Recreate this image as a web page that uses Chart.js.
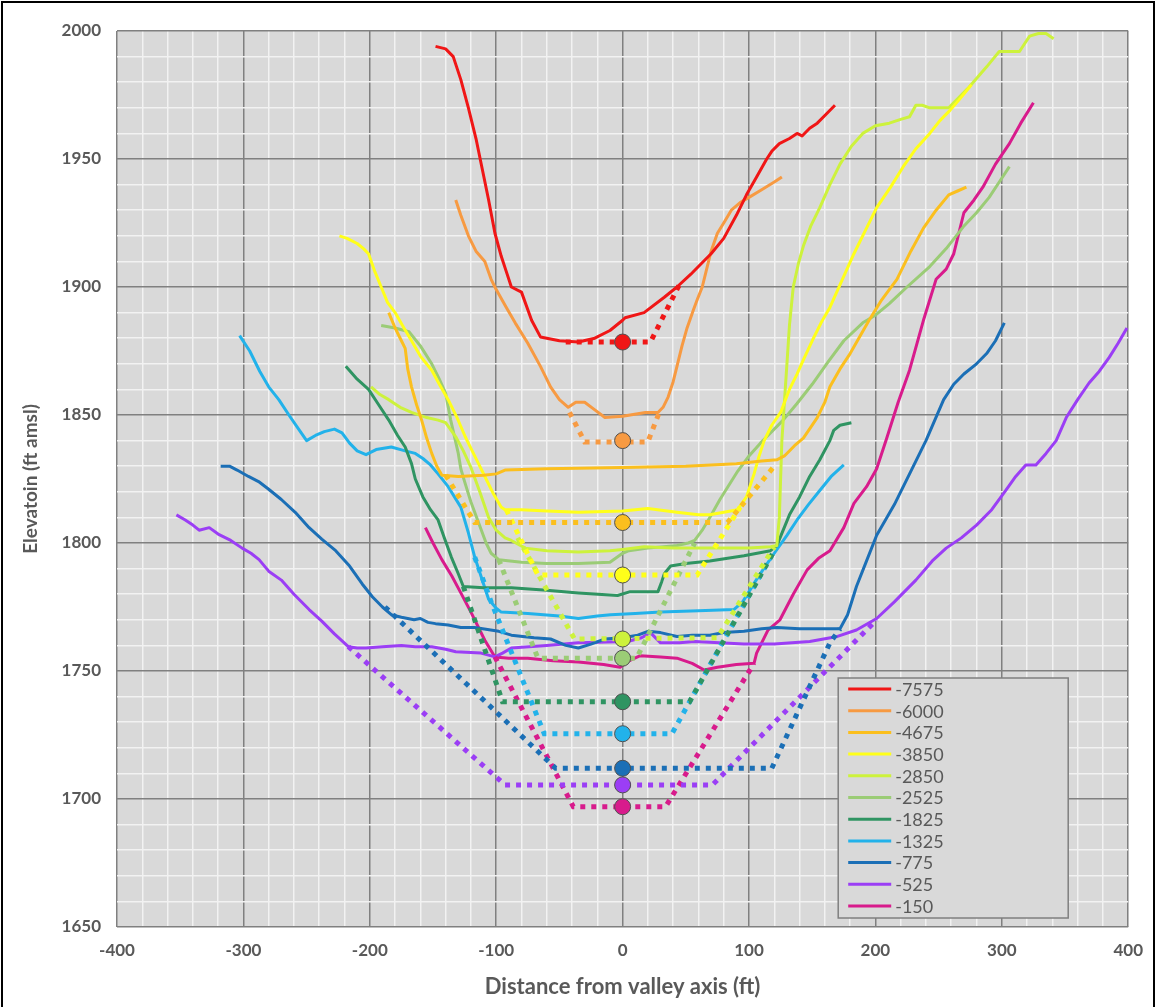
<!DOCTYPE html>
<html>
<head>
<meta charset="utf-8">
<script src="https://cdn.jsdelivr.net/npm/chart.js@4.4.1/dist/chart.umd.min.js"></script>
<style>
  html, body { margin: 0; padding: 0; background: #fff; }
  #wrap { width: 1156px; height: 1007px; position: relative; }
</style>
</head>
<body>
<div id="wrap"><canvas id="grafico"></canvas></div>
<script>
// profile names (legend) and the elevation of each profile's marker at x = 0
var perfis = ['-7575', '-6000', '-4675', '-3850', '-2850', '-2525', '-1825', '-1325', '-775', '-525', '-150'];
var cotaEixo = [1878.5, 1840, 1808, 1787.5, 1762.5, 1755, 1738, 1725.5, 1712, 1705.5, 1697];

// measured ground profiles [distance ft, elevation ft]
var p7575 = [[-148,1994],[-140,1993],[-134,1990],[-128,1981],[-122,1970],[-116,1958],[-111,1946],[-106,1934],[-101,1921],[-96,1912],[-92,1906],[-88,1900],[-80,1898],[-72,1887],[-65,1880.5],[-50,1879],[-35,1878.5],[-22,1880],[-10,1883],[0,1887],[2,1888],[17,1890],[33,1896],[43,1900],[54,1905],[60,1908],[70,1913],[80,1919],[90,1928],[98,1936],[106,1943],[114,1950],[118,1953],[124,1956],[132,1958],[138,1960],[142,1959],[148,1962],[154,1964],[160,1967],[168,1971]];
var p6000 = [[-132,1934],[-128,1928],[-122,1920],[-116,1914],[-109,1910],[-104,1903],[-100,1899],[-92,1892],[-85,1886],[-75,1878],[-65,1869],[-57,1861],[-50,1856],[-43,1853],[-37,1855],[-30,1855],[-22,1852],[-14,1849],[0,1849.5],[6,1850],[18,1851],[28,1851],[32,1853],[36,1857],[40,1863],[43,1869],[47,1877],[51,1884],[56,1891],[59,1895],[63,1900],[66,1906],[70,1914],[75,1921],[80,1925],[86,1930],[93,1933],[100,1935],[110,1938],[120,1941],[126,1943]];
var p4675 = [[-185,1890],[-180,1884],[-175,1879],[-172,1876],[-170,1868],[-167,1861],[-163,1854],[-159,1848],[-155,1841],[-151,1835],[-147,1830],[-143,1826.5],[-130,1826],[-110,1826.5],[-100,1827],[-93,1828.5],[-60,1829],[0,1829.5],[50,1830],[90,1831],[110,1832],[122,1832.5],[128,1834],[136,1838],[143,1841],[154,1849],[160,1855],[164,1861],[172,1868],[180,1874],[188,1881],[195,1887],[205,1895],[217,1903],[228,1914],[238,1923],[248,1930],[258,1936],[265,1937.5],[272,1939]];
var p3850 = [[-224,1920],[-218,1919],[-210,1917],[-205,1915],[-201,1913],[-196,1906],[-191,1900],[-186,1894],[-180,1890],[-173,1884],[-167,1879],[-160,1873],[-151,1867.5],[-145,1862],[-138,1856],[-131,1849],[-124.5,1841.5],[-119,1836],[-114,1831],[-108,1825],[-102,1819],[-96,1814],[-93,1813],[-80,1813],[-60,1812.5],[-35,1812],[0,1812.5],[20,1813.5],[43,1812],[60,1811],[69,1811],[80,1812],[91,1813],[98,1818],[104,1827],[108,1834],[112,1840],[118,1846],[125,1851],[132,1860],[138,1866],[143,1871.5],[150,1879],[157,1886],[164,1892],[173,1902],[183,1913],[192,1922],[201,1931],[212,1939],[222,1947],[232,1954],[243,1960],[251,1965],[259,1969],[266,1973],[276,1979]];
var p2850 = [[-199,1861],[-192,1858],[-185,1856],[-176,1853],[-167,1851],[-155,1849],[-146,1848],[-140,1847],[-132,1841.5],[-126,1836],[-120,1829.5],[-113,1820],[-106,1810],[-100,1805],[-93,1802],[-88,1801],[-77,1798],[-60,1797],[-35,1796.5],[-10,1797],[0,1797.5],[17,1798.5],[40,1798],[69,1798],[100,1798],[117,1798.5],[122,1799],[124,1810],[125,1825],[126,1840],[128,1855],[130,1870],[132,1885],[135,1900],[139,1909],[143,1916],[149,1924],[156,1931],[164,1940],[172,1948],[181,1955],[190,1960],[200,1963],[211,1964],[220,1965.5],[227,1966.5],[232,1971],[237,1971],[243,1970],[250,1970],[258,1970],[266,1974],[274,1978],[281,1982],[288,1986],[293,1989],[298,1992],[306,1992],[314,1992],[318,1995],[322,1998],[329,1999],[335,1999],[341,1997]];
var p2525 = [[-191,1885],[-180,1884],[-169,1882.5],[-160,1877],[-151,1870],[-145,1864],[-140,1858.5],[-136,1848],[-130,1835],[-128,1829],[-125,1824],[-120,1816],[-114,1808],[-108,1800],[-104,1796],[-98,1793.5],[-80,1792.5],[-60,1792],[-35,1792],[-10,1792.5],[0,1796],[5,1797],[20,1798],[43,1799],[52,1800],[57,1801],[63,1805],[69,1810],[77,1817],[91,1828],[100,1834],[109,1839],[115,1842],[127,1848],[138,1854.5],[150,1862],[163,1871],[175,1879],[190,1886],[200,1889],[211,1893.5],[225,1900],[243,1908],[256,1915],[269.5,1923.5],[280,1929],[290,1935],[298,1941],[306,1947]];
var p1825 = [[-219,1869],[-210,1864],[-201,1860],[-193,1854],[-185,1848],[-178,1842],[-172,1837.5],[-167,1831],[-164,1825],[-158,1818],[-152,1813],[-146,1809],[-141,1802],[-135.5,1794.5],[-130,1788],[-126,1783],[-110,1782.5],[-88,1782.5],[-60,1781.5],[-35,1780.5],[-4,1779.5],[6,1781],[20,1781],[28,1781],[31,1785],[33,1788],[38,1791],[50,1792],[69,1793],[96,1795],[117,1797],[122,1799],[132,1811],[140,1818],[148,1826],[156,1832.5],[164,1840],[167,1844],[172,1846],[181,1847]];
var p1325 = [[-303,1881],[-295,1875],[-287,1867],[-280,1861],[-272,1856],[-264,1850],[-257,1845],[-250,1840],[-243,1842],[-236,1843.5],[-228,1844.5],[-222,1843],[-216,1839],[-210,1836],[-203,1834.5],[-195,1836.5],[-183,1837.5],[-172,1836],[-164,1835],[-158,1833],[-152,1830.5],[-146,1827],[-138,1822],[-128,1814],[-122,1804],[-117,1794.5],[-110,1784],[-106,1778],[-100,1774.5],[-96,1773],[-75,1772.5],[-50,1771.5],[-35,1770.5],[-20,1771.5],[-9.5,1772],[10,1772.5],[30,1773],[60,1773.5],[88,1774],[95,1777],[105,1785],[113,1791],[120,1796],[130,1803],[138,1809],[147,1815],[156,1820.5],[165,1826],[175,1830.5]];
var p775 = [[-318,1830],[-311,1830],[-305,1828.5],[-296,1826],[-288,1824],[-280,1821],[-270,1817],[-259,1812],[-248,1806],[-238,1801.5],[-227,1797],[-216,1791],[-206,1784],[-198,1779],[-190,1775],[-183,1772],[-175,1771],[-165,1770],[-160,1770.5],[-154,1769],[-148,1768.5],[-138,1768],[-128,1767],[-117,1767],[-98,1765.5],[-88,1764],[-70,1763],[-57,1762.5],[-45,1760],[-35,1759],[-25,1760.5],[-14,1762.5],[0,1763],[12,1764],[20,1765.5],[30,1765],[43,1763.5],[55,1764],[69,1764],[80,1765],[96,1765.5],[110,1766.5],[122,1767],[140,1766.5],[155,1766.5],[172,1766.5],[178,1772],[185,1783],[193,1793],[201,1803],[215,1815],[228,1828],[240,1840],[254,1856],[262,1862],[270,1866],[280,1870],[288,1874],[295,1879],[302,1886]];
var p525 = [[-353,1811],[-346,1809],[-340,1807],[-335,1805],[-327,1806],[-320,1803.5],[-310,1801],[-301,1798],[-294,1796],[-287.6,1793.5],[-280,1789],[-270,1785.5],[-260,1780],[-248,1774],[-238,1769.5],[-228,1764.5],[-217,1759.5],[-210,1759],[-203,1759],[-190,1759.5],[-175,1760],[-164,1759.5],[-151,1759.5],[-140,1758.5],[-132,1757.5],[-112,1757],[-101,1755.5],[-95,1757],[-88,1759],[-60,1760],[-35,1761],[4,1761.5],[15,1763],[22,1765],[30,1761],[45,1761],[57,1761.5],[96,1760.5],[120,1760.5],[148,1761.5],[170,1763.5],[185,1766],[201,1770.5],[215,1777],[232,1785.5],[245,1793],[256,1798],[268,1802],[280,1807],[292,1813],[303,1820.5],[311,1826],[319,1830.5],[327,1830.5],[335,1835],[343,1840],[351,1849],[360,1856],[369,1862.5],[377,1867],[385,1872.5],[392,1878],[399,1884]];
var p150 = [[-156,1806],[-150,1800],[-143,1793.5],[-135,1787],[-128,1780.5],[-120,1773],[-114,1767],[-109,1762],[-101,1755.5],[-90,1755],[-75,1755],[-55,1754],[-35,1753.5],[-15,1752.5],[-2,1751.5],[5,1754],[14,1756],[30,1755.5],[43,1755],[55,1753],[64.6,1750.4],[75,1751.5],[90,1752.5],[104,1753],[106,1757],[115,1766],[124.5,1770],[135,1780],[146,1789.5],[155,1794],[164,1797],[175,1806],[183,1815.5],[193,1822],[201,1829],[209,1841],[218,1855],[227,1867.5],[238,1887],[248,1903],[256,1907],[262,1913],[270,1929],[278,1934],[285,1939],[295,1948],[306,1956],[315,1964],[325,1972]];

// dotted bedrock channel under each profile
var d7575 = [[-45,1878.5],[22,1878.5],[45,1901]];
var d6000 = [[-42,1851],[-30,1839.5],[20,1839.5],[29,1851]];
var d4675 = [[-140,1826.5],[-117,1808],[83,1808],[120,1830]];
var d3850 = [[-92,1813],[-67,1787.5],[59,1787.5],[93,1814]];
var d2850 = [[-83,1802],[-38,1762.5],[75,1763],[120,1798.5]];
var d2525 = [[-98,1793.5],[-67,1755],[11,1755],[57,1800]];
var d1825 = [[-126,1783],[-95,1738],[53,1738],[120,1797]];
var d1325 = [[-117,1794.5],[-104,1777],[-62,1725.5],[39,1725.5],[80,1762],[120,1797]];
var d775 = [[-188,1775],[-100,1734],[-53,1712],[118,1712],[164,1761],[172,1766.5]];
var d525 = [[-217,1759.5],[-93,1705.5],[71,1705.5],[201,1770]];
var d150 = [[-101,1755.5],[-39,1697],[34,1697],[104,1753]];

var perfisSolidos = [p7575, p6000, p4675, p3850, p2850, p2525, p1825, p1325, p775, p525, p150];
var perfisPontilhados = [d7575, d6000, d4675, d3850, d2850, d2525, d1825, d1325, d775, d525, d150];
var cores = ['#f01616', '#f79a42', '#fbbf1e', '#ffff1a', '#cdf23c', '#9bcc76', '#2f9462', '#22b2ea', '#1b6fb6', '#9b3ef5', '#d81b8c'];

function pontos(arr) {
    return arr.map(function (p) { return {x: p[0], y: p[1]}; });
}

var datasets = [];
for (var i = 0; i < perfis.length; i++) {
    datasets.push({
        label: perfis[i],
        data: pontos(perfisSolidos[i]),
        showLine: true,
        borderColor: cores[i],
        borderWidth: 3,
        pointRadius: 0,
        borderJoinStyle: 'round',
        order: 2
    });
}
for (var i = 0; i < perfis.length; i++) {
    datasets.push({
        label: 'rocha ' + perfis[i],
        data: pontos(perfisPontilhados[i]),
        showLine: true,
        borderColor: cores[i],
        borderWidth: 5,
        borderDash: [5, 6],
        borderCapStyle: 'butt',
        pointRadius: 0,
        order: 1
    });
}
datasets.push({
    label: 'eixo',
    data: cotaEixo.map(function (v) { return {x: 0, y: v}; }),
    showLine: false,
    pointRadius: 8,
    pointHoverRadius: 8,
    pointBackgroundColor: cores,
    pointBorderColor: '#505050',
    pointBorderWidth: 1,
    order: 0
});

// grey plot area + frame round the picture
var fundo = {
    id: 'fundo',
    beforeDraw: function (chart) {
        var ctx = chart.ctx, a = chart.chartArea;
        ctx.save();
        ctx.fillStyle = '#d9d9d9';
        ctx.fillRect(a.left, a.top, a.right - a.left, a.bottom - a.top);
        ctx.restore();
    },
    afterDraw: function (chart) {
        var ctx = chart.ctx;
        ctx.save();
        ctx.strokeStyle = '#000';
        ctx.lineWidth = 2;
        ctx.beginPath();
        ctx.moveTo(2, chart.height);
        ctx.lineTo(2, 2);
        ctx.lineTo(chart.width - 2, 2);
        ctx.lineTo(chart.width - 2, chart.height);
        ctx.stroke();
        ctx.restore();
    }
};

// legend drawn inside the plot, bottom right
var legenda = {
    id: 'legenda',
    afterDatasetsDraw: function (chart) {
        var ctx = chart.ctx, a = chart.chartArea;
        var w = 230, h = 240;
        var x0 = a.right - 60 - w, y0 = a.bottom - 9 - h;
        ctx.save();
        ctx.fillStyle = '#d9d9d9';
        ctx.fillRect(x0, y0, w, h);
        ctx.strokeStyle = '#7f7f7f';
        ctx.lineWidth = 1.5;
        ctx.strokeRect(x0, y0, w, h);
        ctx.font = '18px Lato';
        ctx.textBaseline = 'middle';
        ctx.fillStyle = '#595959';
        for (var i = 0; i < perfis.length; i++) {
            var y = y0 + 11 + i * 21.7;
            ctx.strokeStyle = cores[i];
            ctx.lineWidth = 3;
            ctx.beginPath();
            ctx.moveTo(x0 + 10, y);
            ctx.lineTo(x0 + 53, y);
            ctx.stroke();
            ctx.fillText(perfis[i], x0 + 57, y + 1);
        }
        ctx.restore();
    }
};

function corGrade(passo) {
    return function (c) {
        if (!c.tick) return '#f2f2f2';
        return Math.round(c.tick.value) % passo === 0 ? '#808080' : '#f2f2f2';
    };
}

var ctx = document.getElementById('grafico').getContext('2d');
var grafico = new Chart(ctx, {
    type: 'scatter',
    data: {datasets: datasets},
    options: {
        responsive: true,
        maintainAspectRatio: false,
        animation: false,
        layout: {padding: {left: 10, top: 31, right: 24, bottom: 0}},
        plugins: {
            legend: {display: false},
            tooltip: {enabled: false}
        },
        scales: {
            x: {
                type: 'linear',
                min: -400,
                max: 400,
                afterFit: function (s) { s.height = 80; },
                border: {display: false},
                grid: {color: corGrade(100), lineWidth: 1.5, drawTicks: false},
                ticks: {
                    stepSize: 20,
                    autoSkip: false,
                    maxRotation: 0,
                    padding: 13,
                    color: '#595959',
                    font: {family: 'Lato', size: 17, weight: 'bold'},
                    callback: function (v) { return Math.round(v) % 100 === 0 ? v : ''; }
                },
                title: {
                    display: true,
                    text: 'Distance from valley axis (ft)',
                    color: '#595959',
                    font: {family: 'Lato', size: 22, weight: 'bold'},
                    padding: {top: 0, bottom: 7}
                }
            },
            y: {
                type: 'linear',
                min: 1650,
                max: 2000,
                afterFit: function (s) { s.width = 107; },
                border: {display: false},
                grid: {color: corGrade(50), lineWidth: 1.5, drawTicks: false},
                ticks: {
                    stepSize: 10,
                    autoSkip: false,
                    padding: 16,
                    color: '#595959',
                    font: {family: 'Lato', size: 17, weight: 'bold'},
                    callback: function (v) { return Math.round(v) % 50 === 0 ? v : ''; }
                },
                title: {
                    display: true,
                    text: 'Elevatoin (ft amsl)',
                    color: '#595959',
                    font: {family: 'Lato', size: 19, weight: 'bold'},
                    padding: {top: 9, bottom: 0}
                }
            }
        }
    },
    plugins: [fundo, legenda]
});
</script>
</body>
</html>
